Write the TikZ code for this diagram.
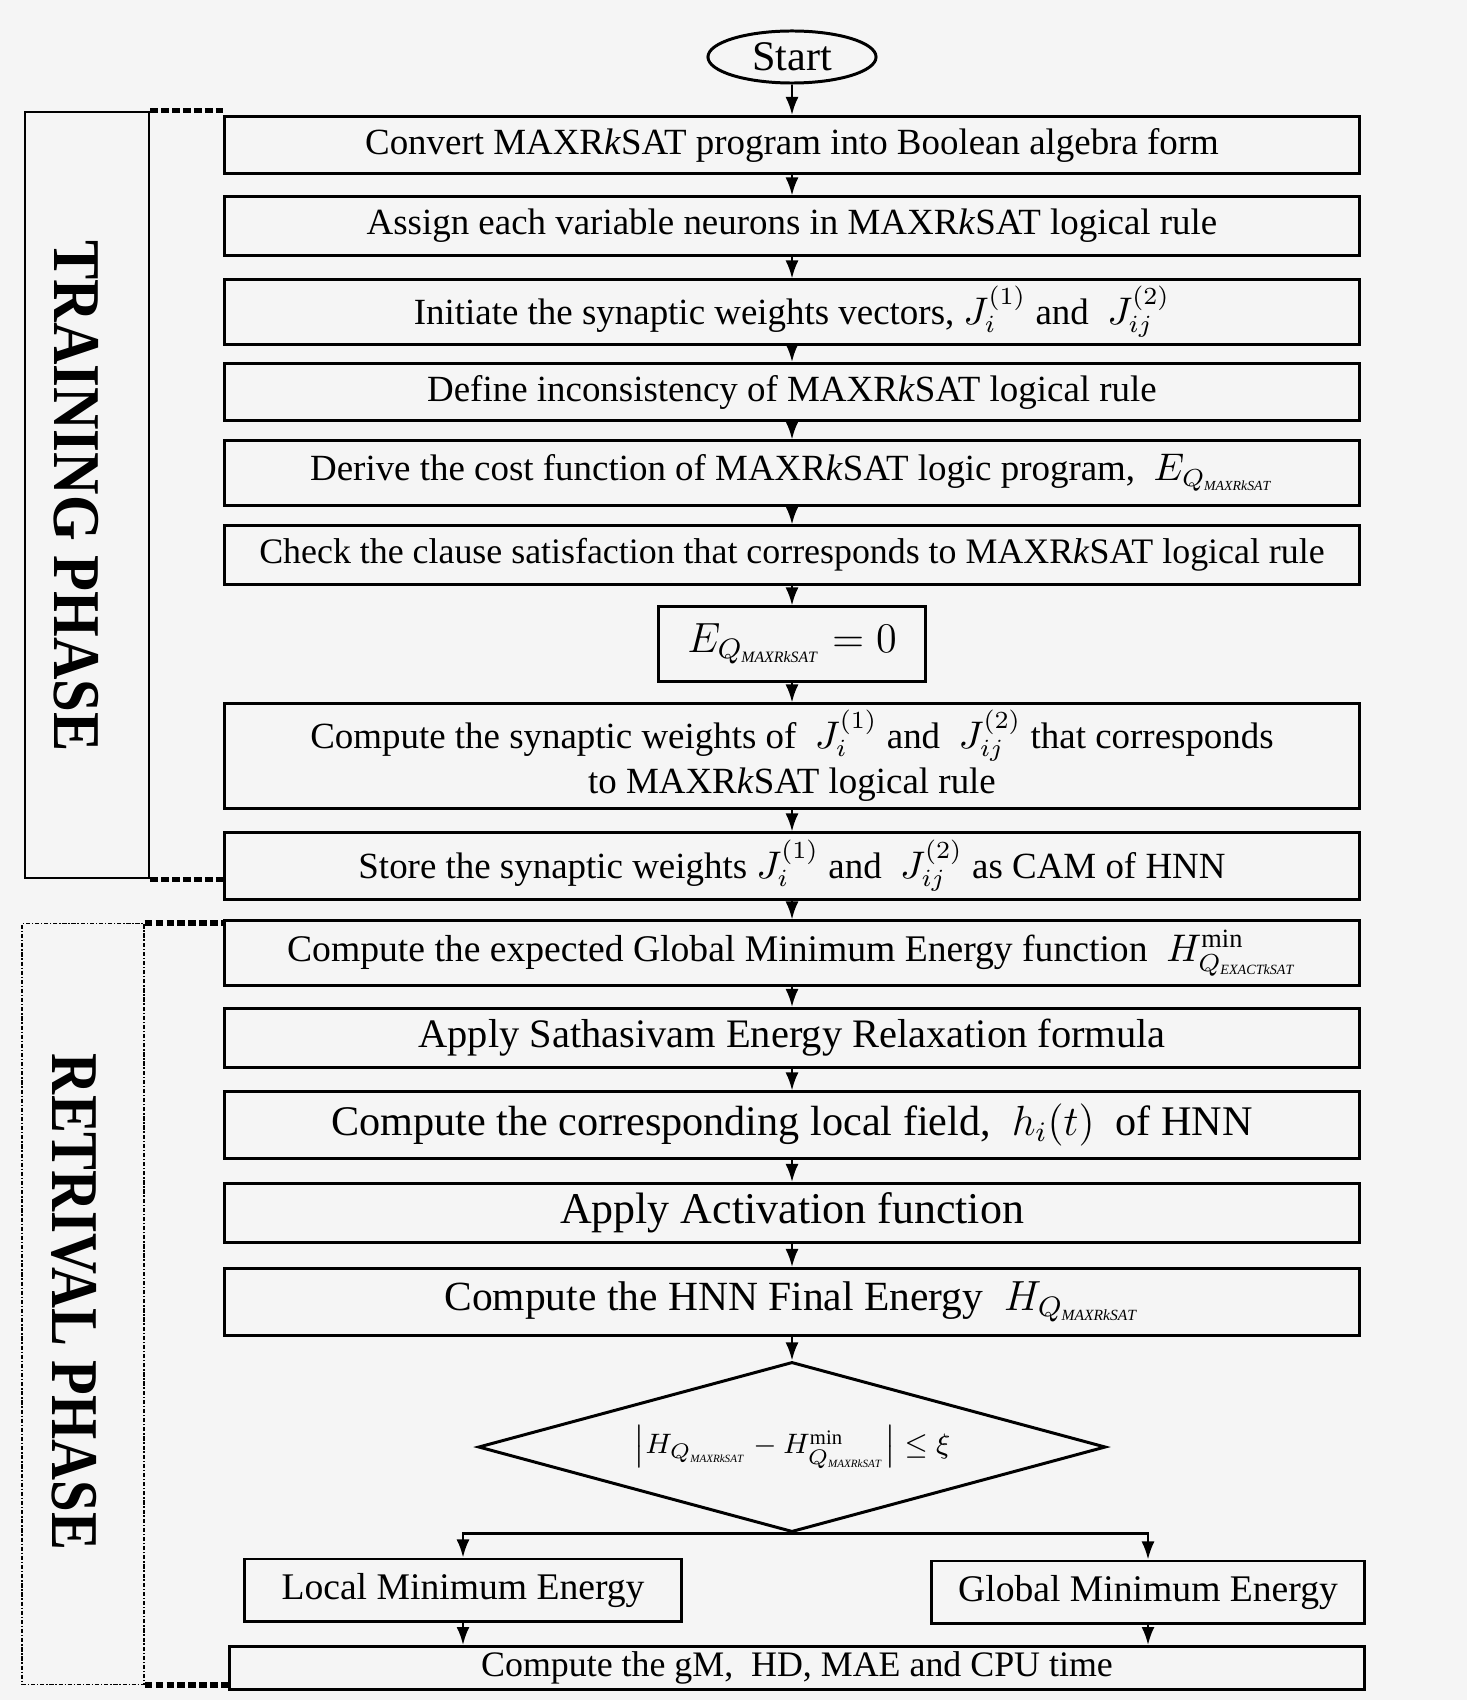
\documentclass[tikz,border=0pt]{standalone}
\usepackage{fontspec}
\setmainfont{Liberation Serif}
\usetikzlibrary{arrows.meta,positioning,shapes.geometric}
\definecolor{paper}{HTML}{F5F5F5}
\newcommand{\mrk}{MAXR\textit{k}SAT}
\newcommand{\qsub}[1]{Q_{\scalebox{0.75}{$\scriptscriptstyle\mathit{#1}$}}}
\newcommand{\fs}[1]{\fontsize{#1}{13}\selectfont}
\tikzset{
  box/.style={draw, rectangle, line width=0.85pt, minimum width=11.34cm, align=center, font=\fs{10.5}, inner sep=1pt},
  dec/.style={draw, diamond, line width=0.85pt, minimum width=6.27cm, minimum height=1.7cm, inner sep=0pt, aspect=3.7, font=\fs{8.4}},
  arr/.style={-{Latex[length=1.8mm, width=1.3mm]}, line width=0.65pt},
  phase/.style={draw, rectangle, minimum width=1.24cm, minimum height=7.66cm, line width=0.7pt},
  link/.style={line width=1.5pt, dash pattern=on 2.2pt off 0.9pt},
  lbl/.style={rotate=-90, font=\fontsize{19}{21}\selectfont\bfseries}
}
\begin{document}
\begin{tikzpicture}[x=0.01cm, y=-0.01cm]
\fill[paper] (0,0) rectangle (1467,1700);
\useasboundingbox (0,0) rectangle (1467,1700);
% training phase
\node[draw, ellipse, line width=0.85pt, inner sep=0.5pt, minimum width=1.68cm, minimum height=0.52cm, font=\fs{12}] (start) at (792,57) {Start};
\node[box, minimum height=5.7mm] (conv) at (792,145) {Convert \mrk{} program into Boolean algebra form};
\node[box, minimum height=5.8mm] (asgn) at (792,226) {Assign each variable neurons in \mrk{} logical rule};
\node[box, minimum height=6.4mm] (init) at (792,312) {Initiate the synaptic weights vectors, $J_i^{(1)}$ and \ $J_{ij}^{(2)}$};
\node[box, minimum height=5.7mm] (defn) at (792,392) {Define inconsistency of \mrk{} logical rule};
\node[box, minimum height=6.4mm] (cost) at (792,473) {Derive the cost function of \mrk{} logic program, \ $E_{\qsub{MAXRkSAT}}$};
\node[box, minimum height=5.8mm, font=\fs{10.2}] (chck) at (792,555) {Check the clause satisfaction that corresponds to \mrk{} logical rule};
\node[box, minimum width=2.67cm, minimum height=7.4mm, font=\fs{12}] (ezero) at (792,644) {$E_{\qsub{MAXRkSAT}} = 0$};
\node[box, minimum height=10.4mm] (cmpw) at (792,756) {Compute the synaptic weights of \ $J_i^{(1)}$ and \ $J_{ij}^{(2)}$ that corresponds\\to \mrk{} logical rule};
\node[box, minimum height=6.6mm] (stor) at (792,866) {Store the synaptic weights $J_i^{(1)}$ and \ $J_{ij}^{(2)}$ as CAM of HNN};
% retrieval phase
\node[box, minimum height=6.4mm, font=\fs{10.7}] (expc) at (792,953) {Compute the expected Global Minimum Energy function \ $H^{\min}_{\qsub{EXACTkSAT}}$};
\node[box, minimum height=5.9mm, font=\fs{11.5}] (relx) at (792,1038) {Apply Sathasivam Energy Relaxation formula};
\node[box, minimum height=6.6mm, font=\fs{12}] (fld) at (792,1125) {Compute the corresponding local field, \ $h_i(t)$ \ of HNN};
\node[box, minimum height=5.9mm, font=\fs{12.5}] (actv) at (792,1213) {Apply Activation function};
\node[box, minimum height=6.7mm, font=\fs{11.8}] (fnl) at (792,1302) {Compute the HNN Final Energy \ $H_{\qsub{MAXRkSAT}}$};
\node[dec] (dia) at (792,1447) {$\left|H_{\qsub{MAXRkSAT}} - H^{\min}_{\qsub{MAXRkSAT}}\right| \le \xi$};
\node[box, minimum width=4.36cm, minimum height=6.2mm, font=\fs{10.7}] (lme) at (463,1590) {Local Minimum Energy};
\node[box, minimum width=4.32cm, minimum height=6.2mm, font=\fs{10.7}] (gme) at (1148,1592) {Global Minimum Energy};
\node[box, minimum height=4.3mm, font=\fs{10.2}] (gm) at (797,1668) {Compute the gM, \ HD, MAE and CPU time};
% phase frames
\node[phase] (train) at (87,495) {};
\node[phase, minimum width=1.22cm, minimum height=7.6cm, line width=0.4pt, dash pattern=on 1.2pt off 0.5pt on 0.4pt off 0.5pt] (retr) at (83,1304) {};
\node[lbl] (tlbl) at (76,496) {\scalebox{0.88}[1]{TRAINING PHASE}};
\node[lbl] (rlbl) at (74,1302) {\scalebox{0.85}[1]{RETRIVAL PHASE}};
\draw[link] (train.north east) -- (train.north east -| conv.west);
\draw[link] (train.south east) -- (train.south east -| stor.west);
\draw[link] (retr.north east) -- (retr.north east -| expc.west);
\draw[link] (retr.south east) -- (retr.south east -| gm.west);
% arrows
\draw[arr] (start) -- (conv);
\foreach \s/\t in {conv/asgn,asgn/init,init/defn,defn/cost,cost/chck,chck/ezero,ezero/cmpw,cmpw/stor,stor/expc,expc/relx,relx/fld,fld/actv,actv/fnl,fnl/dia}
  \draw[arr] (\s) -- (\t);
\draw[arr] (dia.south) -| (lme.north);
\draw[arr] (dia.south) -| (gme.north);
\draw[arr] (lme.south) -- (lme.south |- gm.north);
\draw[arr] (gme.south) -- (gme.south |- gm.north);
\end{tikzpicture}
\end{document}
